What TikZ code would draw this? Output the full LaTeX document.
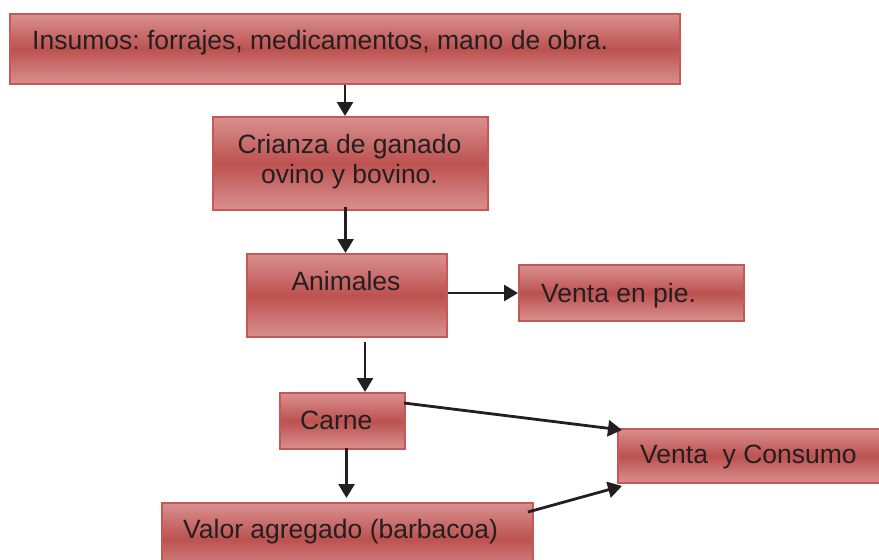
\documentclass[tikz,border=0pt]{standalone}
\usepackage{fontspec}
\setmainfont{Liberation Sans}
\usetikzlibrary{arrows.meta,calc}
\definecolor{boxtop}{RGB}{217,144,143}
\definecolor{boxmid}{RGB}{188,82,80}
\definecolor{boxline}{RGB}{200,88,86}
\definecolor{txt}{RGB}{35,31,32}
\frenchspacing
\tikzset{
  box/.style={draw=boxline, line width=2pt, top color=boxtop, bottom color=boxtop, middle color=boxmid,
    anchor=north west, inner sep=0pt},
  lbl/.style={font=\fontsize{26.5}{30}\selectfont, text=txt, anchor=base west, inner sep=0pt},
  arr/.style={draw=txt, line width=2.8pt, -{Triangle[length=14pt,width=16pt]}}
}
\begin{document}
\begin{tikzpicture}[x=1pt,y=-1pt]
\clip (0,0) rectangle (879,560);
\fill[white] (0,0) rectangle (879,560);
% boxes
\node[box, minimum width=670pt, minimum height=70pt] (b1) at (9,13) {};
\node[box, minimum width=275pt, minimum height=93pt] (b2) at (212,116) {};
\node[box, minimum width=200pt, minimum height=83pt] (b3) at (246,253) {};
\node[box, minimum width=225pt, minimum height=56pt] (b4) at (518,264) {};
\node[box, minimum width=125pt, minimum height=56pt] (b5) at (279,392) {};
\node[box, minimum width=272pt, minimum height=54pt] (b6) at (617,428) {};
\node[box, minimum width=371pt, minimum height=72pt] (b7) at (161,502) {};
% texts
\node[lbl] (t1) at (32,49) {Insumos: forrajes, medicamentos, mano de obra.};
\node[lbl, anchor=base] (t2a) at (349.5,153) {Crianza de ganado};
\node[lbl, anchor=base] (t2b) at (349.5,183) {ovino y bovino.};
\node[lbl, anchor=base] (t3) at (346,290) {Animales};
\node[lbl] (t4) at (541,302) {Venta en pie.};
\node[lbl] (t5) at (300,429) {Carne};
\node[lbl] (t6) at (640,463) {Venta\ \ y Consumo};
\node[lbl] (t7) at (183,538) {Valor agregado (barbacoa)};
% connectors
\draw[arr] (b1.south) -- (b1.south |- b2.north);
\draw[arr] ([shift={(-5,-4)}]b2.south) -- ([shift={(-5,0)}]b2.south |- b3.north);
\draw[arr] (b3.east |- b4.west) -- (b4.west);
\draw[arr] ([shift={(18,4)}]b3.south) -- ([shift={(18,0)}]b3.south |- b5.north);
\draw[arr] ([shift={(4,-2)}]b5.south) -- ([shift={(4,-4)}]b5.south |- b7.north);
\draw[arr] ([shift={(-2,11)}]b5.north east) -- ([shift={(5,2)}]b6.north west);
\draw[arr] ([shift={(-6,10)}]b7.north east) -- ([shift={(5,2)}]b6.south west);
\end{tikzpicture}
\end{document}
